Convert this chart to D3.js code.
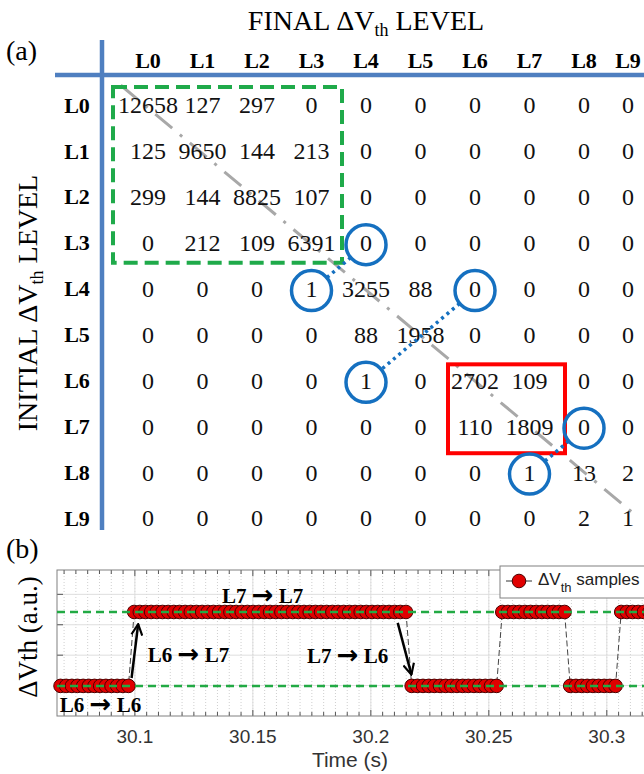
<!DOCTYPE html>
<html>
<head>
<meta charset="utf-8">
<script src="https://cdn.jsdelivr.net/npm/d3@7"></script>
<style>
  body { margin: 0; background: #fff; }
  svg { display: block; }
</style>
</head>
<body>
<div id="chart"></div>
<script>
// ---------- panel (a): level transition counts ----------
const levels = ["L0", "L1", "L2", "L3", "L4", "L5", "L6", "L7", "L8", "L9"];

const rowL0 = [12658, 127, 297, 0, 0, 0, 0, 0, 0, 0];
const rowL1 = [125, 9650, 144, 213, 0, 0, 0, 0, 0, 0];
const rowL2 = [299, 144, 8825, 107, 0, 0, 0, 0, 0, 0];
const rowL3 = [0, 212, 109, 6391, 0, 0, 0, 0, 0, 0];
const rowL4 = [0, 0, 0, 1, 3255, 88, 0, 0, 0, 0];
const rowL5 = [0, 0, 0, 0, 88, 1958, 0, 0, 0, 0];
const rowL6 = [0, 0, 0, 0, 1, 0, 2702, 109, 0, 0];
const rowL7 = [0, 0, 0, 0, 0, 0, 110, 1809, 0, 0];
const rowL8 = [0, 0, 0, 0, 0, 0, 0, 1, 13, 2];
const rowL9 = [0, 0, 0, 0, 0, 0, 0, 0, 2, 1];
const counts = [rowL0, rowL1, rowL2, rowL3, rowL4, rowL5, rowL6, rowL7, rowL8, rowL9];

// [row, col] pairs that are circled and linked with a dotted line
const circleLinks = [
  [[3, 4], [4, 3]],
  [[4, 6], [6, 4]],
  [[7, 8], [8, 7]]
];

// ---------- panel (b): ΔVth samples ----------
const sampleStart = 30.0685;   // s
const samplePeriod = 0.0024;   // s
const sampleLevel = [
  6, 6, 6, 6, 6, 6, 6, 6, 6, 6, 6, 6, 6,
  7, 7, 7, 7, 7, 7, 7, 7, 7, 7,
  7, 7, 7, 7, 7, 7, 7, 7, 7, 7,
  7, 7, 7, 7, 7, 7, 7, 7, 7, 7,
  7, 7, 7, 7, 7, 7, 7, 7, 7, 7,
  7, 7, 7, 7, 7, 7, 7, 7, 7,
  6, 6, 6, 6, 6, 6, 6, 6, 6, 6, 6, 6, 6, 6, 6, 6,
  7, 7, 7, 7, 7, 7, 7, 7, 7, 7, 7, 7,
  6, 6, 6, 6, 6, 6, 6, 6, 6,
  7, 7, 7, 7, 7, 7
];
const levelValue = { 6: 0.99, 7: 3.42 };   // a.u.
const xTicks = [30.1, 30.15, 30.2, 30.25, 30.3];
const yTicks = [1, 2, 3, 4];

const notes = [
  { from: "L7", to: "L7", t: 30.1369, v: 3.72 },
  { from: "L6", to: "L7", t: 30.1055, v: 1.77 },
  { from: "L7", to: "L6", t: 30.1729, v: 1.75 },
  { from: "L6", to: "L6", t: 30.0682, v: 0.14 }
];
const arrows = [
  { t1: 30.0986, v1: 1.25, t2: 30.1014, v2: 3.02 },
  { t1: 30.2114, v1: 3.06, t2: 30.2172, v2: 1.36 }
];

const serif = "'Liberation Serif', 'Times New Roman', serif";
const sans = "'Liberation Sans', Arial, sans-serif";

const svg = d3.select("#chart").append("svg")
  .attr("width", 644)
  .attr("height", 774);

// ================= panel (a) =================
const colX = d3.scaleLinear().domain([0, 8, 9]).range([148, 584, 628]);
const rowY = d3.scaleLinear().domain([0, 9]).range([105, 518]);

const a = svg.append("g");

a.append("text")
  .attr("x", 366).attr("y", 30)
  .attr("text-anchor", "middle")
  .style("font-family", serif).style("font-size", "28px")
  .call(t => {
    t.append("tspan").text("FINAL \u0394V");
    t.append("tspan").attr("dy", 6).style("font-size", "18px").text("th");
    t.append("tspan").attr("dy", -6).text(" LEVEL");
  });

a.append("text")
  .attr("x", 6).attr("y", 60)
  .style("font-family", serif).style("font-size", "28px")
  .text("(a)");

a.append("text")
  .attr("transform", "translate(37,303) rotate(-90)")
  .attr("text-anchor", "middle")
  .style("font-family", serif).style("font-size", "28px")
  .call(t => {
    t.append("tspan").text("INITIAL \u0394V");
    t.append("tspan").attr("dy", 6).style("font-size", "18px").text("th");
    t.append("tspan").attr("dy", -6).text("  LEVEL");
  });

// blue axis cross
a.append("line")
  .attr("x1", 55).attr("x2", 644).attr("y1", 75).attr("y2", 75)
  .attr("stroke", "#4f7fc0").attr("stroke-width", 4.5);
a.append("line")
  .attr("x1", 102).attr("x2", 102).attr("y1", 40).attr("y2", 530)
  .attr("stroke", "#4f7fc0").attr("stroke-width", 4.5);

// headers
a.selectAll(".colLab")
  .data(levels)
  .enter()
  .append("text")
  .attr("x", (d, i) => colX(i))
  .attr("y", 68)
  .attr("text-anchor", "middle")
  .style("font-family", serif).style("font-size", "22px").style("font-weight", "bold")
  .text(d => d);

a.selectAll(".rowLab")
  .data(levels)
  .enter()
  .append("text")
  .attr("x", 77)
  .attr("y", (d, i) => rowY(i))
  .attr("dy", "0.35em")
  .attr("text-anchor", "middle")
  .style("font-family", serif).style("font-size", "22px").style("font-weight", "bold")
  .text(d => d);

// diagonal guide
a.append("line")
  .attr("x1", colX(-0.5)).attr("y1", rowY(-0.43))
  .attr("x2", colX(9.1)).attr("y2", rowY(8.88))
  .attr("stroke", "#a8a8a8").attr("stroke-width", 3)
  .attr("stroke-dasharray", "22,10,3,10");

// cell values
const cells = [];
counts.forEach((row, r) => row.forEach((v, c) => cells.push({ r, c, v })));

a.selectAll(".cell")
  .data(cells)
  .enter()
  .append("text")
  .attr("x", d => colX(d.c))
  .attr("y", d => rowY(d.r))
  .attr("dy", "0.35em")
  .attr("text-anchor", "middle")
  .style("font-family", serif).style("font-size", "24px")
  .attr("fill", "#111")
  .text(d => d.v);

// green dashed box (L0-L3) and red box (L6-L7)
a.append("rect")
  .attr("x", colX(0) - 35).attr("y", rowY(0) - 18)
  .attr("width", colX(3) + 30.5 - (colX(0) - 35))
  .attr("height", rowY(3) + 20 - (rowY(0) - 18))
  .attr("fill", "none").attr("stroke", "#1faa4a").attr("stroke-width", 4)
  .attr("stroke-dasharray", "14,7");

a.append("rect")
  .attr("x", colX(6) - 27).attr("y", rowY(6) - 16)
  .attr("width", colX(7) + 35.5 - (colX(6) - 27))
  .attr("height", rowY(7) + 27 - (rowY(6) - 16))
  .attr("fill", "none").attr("stroke", "#ff0000").attr("stroke-width", 4);

// circles + dotted links
const R = 20;
circleLinks.forEach(([p, q]) => {
  const x1 = colX(p[1]), y1 = rowY(p[0]) + 2;
  const x2 = colX(q[1]), y2 = rowY(q[0]) + 2;
  const len = Math.hypot(x2 - x1, y2 - y1);
  const ux = (x2 - x1) / len, uy = (y2 - y1) / len;

  a.append("line")
    .attr("x1", x1 + ux * R).attr("y1", y1 + uy * R)
    .attr("x2", x2 - ux * R).attr("y2", y2 - uy * R)
    .attr("stroke", "#1570c0").attr("stroke-width", 3.5)
    .attr("stroke-dasharray", "3,4");

  [[x1, y1], [x2, y2]].forEach(([cx, cy]) => {
    a.append("circle")
      .attr("cx", cx).attr("cy", cy).attr("r", R)
      .attr("fill", "none").attr("stroke", "#1570c0").attr("stroke-width", 3.5);
  });
});

// ================= panel (b) =================
const x = d3.scaleLinear().domain([30.067, 30.32]).range([57, 654]);
const y = d3.scaleLinear().domain([0, 4.8]).range([716, 570]);

const b = svg.append("g");

b.append("text")
  .attr("x", 6).attr("y", 558)
  .style("font-family", serif).style("font-size", "28px")
  .text("(b)");

b.append("text")
  .attr("transform", "translate(37,637) rotate(-90)")
  .attr("text-anchor", "middle")
  .style("font-family", serif).style("font-size", "27px")
  .text("\u0394Vth (a.u.)");

// grid
const minorX = d3.ticks(30.067, 30.32, 50);
b.selectAll(".minor")
  .data(minorX)
  .enter()
  .append("line")
  .attr("x1", d => x(d)).attr("x2", d => x(d))
  .attr("y1", y(4.8)).attr("y2", y(0))
  .attr("stroke", "#cfcfcf").attr("stroke-width", 1)
  .attr("stroke-dasharray", "1,2");

b.selectAll(".majorX")
  .data(xTicks)
  .enter()
  .append("line")
  .attr("x1", d => x(d)).attr("x2", d => x(d))
  .attr("y1", y(4.8)).attr("y2", y(0))
  .attr("stroke", "#dedede").attr("stroke-width", 1);

b.selectAll(".majorY")
  .data(yTicks)
  .enter()
  .append("line")
  .attr("x1", x.range()[0]).attr("x2", x.range()[1])
  .attr("y1", d => y(d)).attr("y2", d => y(d))
  .attr("stroke", "#dedede").attr("stroke-width", 1);

// ticks on the frame
const isMajor = d => xTicks.some(t => Math.abs(t - d) < 1e-9);
b.selectAll(".tickB")
  .data(minorX)
  .enter()
  .append("line")
  .attr("x1", d => x(d)).attr("x2", d => x(d))
  .attr("y1", y(0)).attr("y2", d => y(0) - (isMajor(d) ? 6 : 4))
  .attr("stroke", "#555");
b.selectAll(".tickT")
  .data(minorX)
  .enter()
  .append("line")
  .attr("x1", d => x(d)).attr("x2", d => x(d))
  .attr("y1", y(4.8)).attr("y2", d => y(4.8) + (isMajor(d) ? 6 : 4))
  .attr("stroke", "#555");
b.selectAll(".tickL")
  .data(yTicks)
  .enter()
  .append("line")
  .attr("x1", x.range()[0]).attr("x2", x.range()[0] + 6)
  .attr("y1", d => y(d)).attr("y2", d => y(d))
  .attr("stroke", "#555");

b.append("rect")
  .attr("x", x.range()[0]).attr("y", y(4.8))
  .attr("width", x.range()[1] - x.range()[0])
  .attr("height", y(0) - y(4.8))
  .attr("fill", "none").attr("stroke", "#808080").attr("stroke-width", 1);

b.selectAll(".xLab")
  .data(xTicks)
  .enter()
  .append("text")
  .attr("x", d => x(d))
  .attr("y", 743)
  .attr("text-anchor", "middle")
  .style("font-family", sans).style("font-size", "19px")
  .attr("fill", "#333")
  .text(d => d);

b.append("text")
  .attr("x", 350).attr("y", 767)
  .attr("text-anchor", "middle")
  .style("font-family", sans).style("font-size", "21px")
  .attr("fill", "#333")
  .text("Time (s)");

// samples
const samples = sampleLevel.map((lv, i) => ({
  t: sampleStart + i * samplePeriod,
  v: levelValue[lv]
}));

b.append("path")
  .datum(samples)
  .attr("d", d3.line().x(d => x(d.t)).y(d => y(d.v)))
  .attr("fill", "none").attr("stroke", "#444").attr("stroke-width", 1)
  .attr("stroke-dasharray", "6,3");

b.selectAll(".pt")
  .data(samples)
  .enter()
  .append("circle")
  .attr("cx", d => x(d.t))
  .attr("cy", d => y(d.v))
  .attr("r", 6.8)
  .attr("fill", "#e00000")
  .attr("stroke", "#4a0000").attr("stroke-width", 1);

// level guides
b.selectAll(".lvl")
  .data(Object.values(levelValue))
  .enter()
  .append("line")
  .attr("x1", x.range()[0]).attr("x2", x.range()[1])
  .attr("y1", d => y(d)).attr("y2", d => y(d))
  .attr("stroke", "#22aa44").attr("stroke-width", 2.5)
  .attr("stroke-dasharray", "8,5");

// annotations
svg.append("defs").append("marker")
  .attr("id", "head")
  .attr("viewBox", "0 0 12 12")
  .attr("refX", 11).attr("refY", 6)
  .attr("markerWidth", 13).attr("markerHeight", 13)
  .attr("markerUnits", "userSpaceOnUse")
  .attr("orient", "auto")
  .append("path")
  .attr("d", "M1,1 L11,6 L1,11")
  .attr("fill", "none").attr("stroke", "#000").attr("stroke-width", 2);

b.selectAll(".arr")
  .data(arrows)
  .enter()
  .append("line")
  .attr("x1", d => x(d.t1)).attr("y1", d => y(d.v1))
  .attr("x2", d => x(d.t2)).attr("y2", d => y(d.v2))
  .attr("stroke", "#000").attr("stroke-width", 2.5)
  .attr("marker-end", "url(#head)");

b.selectAll(".note")
  .data(notes)
  .enter()
  .append("text")
  .attr("x", d => x(d.t))
  .attr("y", d => y(d.v))
  .style("font-family", serif).style("font-size", "21px").style("font-weight", "bold")
  .each(function (d) {
    const t = d3.select(this);
    t.append("tspan").text(d.from + " ");
    t.append("tspan")
      .style("font-family", "'DejaVu Sans', sans-serif")
      .style("font-size", "26px").style("font-weight", "bold")
      .attr("dy", 1)
      .text("\u2192");
    t.append("tspan").attr("dy", -1).text(" " + d.to);
  });

// legend
const lg = b.append("g").attr("transform", "translate(500,566)");
lg.append("rect")
  .attr("width", 160).attr("height", 32)
  .attr("fill", "#fff").attr("stroke", "#808080");
lg.append("line")
  .attr("x1", 6).attr("x2", 32).attr("y1", 15).attr("y2", 15)
  .attr("stroke", "#333").attr("stroke-width", 1);
lg.append("circle")
  .attr("cx", 19).attr("cy", 15).attr("r", 6.8)
  .attr("fill", "#e00000").attr("stroke", "#4a0000");
lg.append("text")
  .attr("x", 38).attr("y", 19)
  .style("font-family", sans).style("font-size", "17px")
  .attr("fill", "#222")
  .call(t => {
    t.append("tspan").text("\u0394V");
    t.append("tspan").attr("dy", 7).style("font-size", "13px").text("th");
    t.append("tspan").attr("dy", -7).text(" samples");
  });
</script>
</body>
</html>
